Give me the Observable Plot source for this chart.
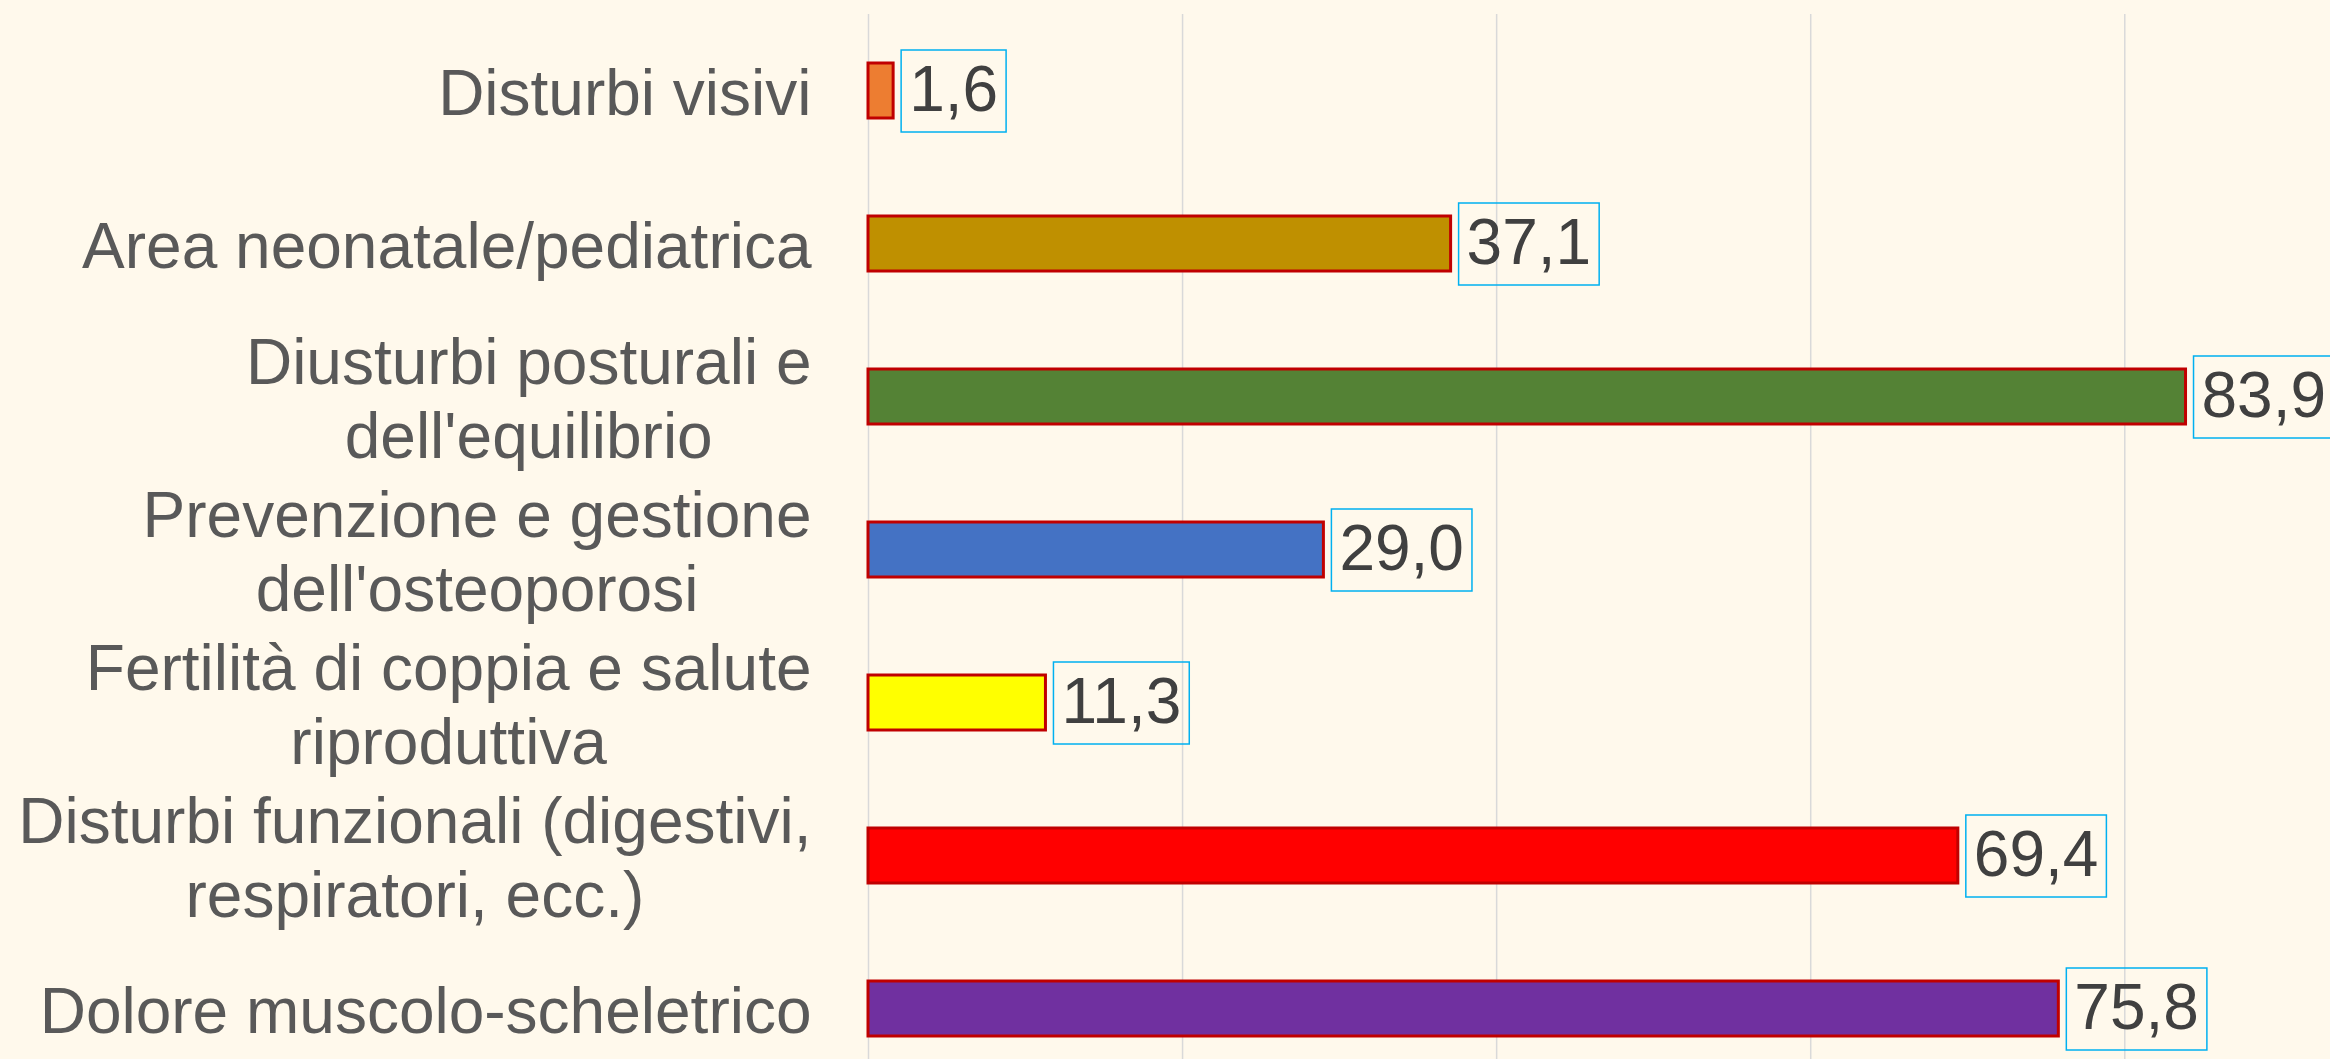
<!DOCTYPE html>
<html>
<head>
<meta charset="utf-8">
<script src="https://cdn.jsdelivr.net/npm/d3@7"></script>
<script src="https://cdn.jsdelivr.net/npm/@observablehq/plot@0.6"></script>
<style>
  html, body { margin: 0; padding: 0; background: #FFF9EC; overflow: hidden; }
  #chart svg { display: block; }
</style>
</head>
<body>
<div id="chart"></div>
<script>
const categories = [
  "Disturbi visivi",
  "Area neonatale/pediatrica",
  "Diusturbi posturali e\ndell'equilibrio",
  "Prevenzione e gestione\ndell'osteoporosi",
  "Fertilità di coppia e salute\nriproduttiva",
  "Disturbi funzionali (digestivi,\nrespiratori, ecc.)",
  "Dolore muscolo-scheletrico"
];
const values = [1.6, 37.1, 83.9, 29.0, 11.3, 69.4, 75.8];
const colors = ["#ED7D31", "#BF9000", "#548235", "#4472C4", "#FFFF00", "#FF0000", "#7030A0"];
const gridTicks = [0, 20, 40, 60, 80];

const rows = categories.map((c, i) => ({cat: c, value: values[i], color: colors[i]}));
const fmt = v => d3.format(".1f")(v).replace(".", ",");

const plot = Plot.plot({
  width: 2330,
  height: 1059,
  marginLeft: 868,
  marginRight: 0,
  marginTop: 40,
  marginBottom: 0,
  style: {background: "#FFF9EC", fontFamily: "'Liberation Sans', Arial, sans-serif", overflow: "visible"},
  x: {domain: [0, 93.1], axis: null},
  y: {domain: categories, paddingInner: 0.642, paddingOuter: 0.139, label: null, axis: null},
  color: {type: "identity"},
  marks: [
    Plot.ruleX(gridTicks, {stroke: "#D9D9D9", strokeWidth: 1.5, insetTop: -26}),
    Plot.barX(rows, {x: "value", y: "cat", fill: "color", stroke: "#C00000", strokeWidth: 3}),
    Plot.text(rows, {x: "value", y: "cat", text: d => fmt(d.value), textAnchor: "start", dx: 15.5,
      fontSize: 64, fill: "#404040", className: "vlabel"}),
    Plot.axisY({tickSize: 0, tickPadding: 57, fontSize: 64, color: "#595959", lineHeight: 1.16, className: "ylab", label: null})
  ]
});

document.getElementById("chart").appendChild(plot);

// value label boxes
plot.querySelectorAll("g.vlabel text").forEach(t => {
  const bb = t.getBBox();
  const r = document.createElementNS("http://www.w3.org/2000/svg", "rect");
  r.setAttribute("x", bb.x - 8);
  r.setAttribute("y", -41);
  r.setAttribute("width", bb.width + 16);
  r.setAttribute("height", 82);
  r.setAttribute("fill", "none");
  r.setAttribute("stroke", "#00B0F0");
  r.setAttribute("stroke-width", 1.5);
  if (t.getAttribute("transform")) r.setAttribute("transform", t.getAttribute("transform"));
  t.parentNode.insertBefore(r, t);
});

// center multi-line category labels (as in the original)
plot.querySelectorAll("g.ylab text").forEach(t => {
  const spans = t.querySelectorAll("tspan");
  if (spans.length > 1) {
    let maxW = 0;
    spans.forEach(s => { maxW = Math.max(maxW, s.getComputedTextLength()); });
    t.setAttribute("text-anchor", "middle");
    spans.forEach(s => {
      const x0 = +(s.getAttribute("x") || 0);
      s.setAttribute("x", x0 - maxW / 2);
    });
  }
});
</script>
</body>
</html>
